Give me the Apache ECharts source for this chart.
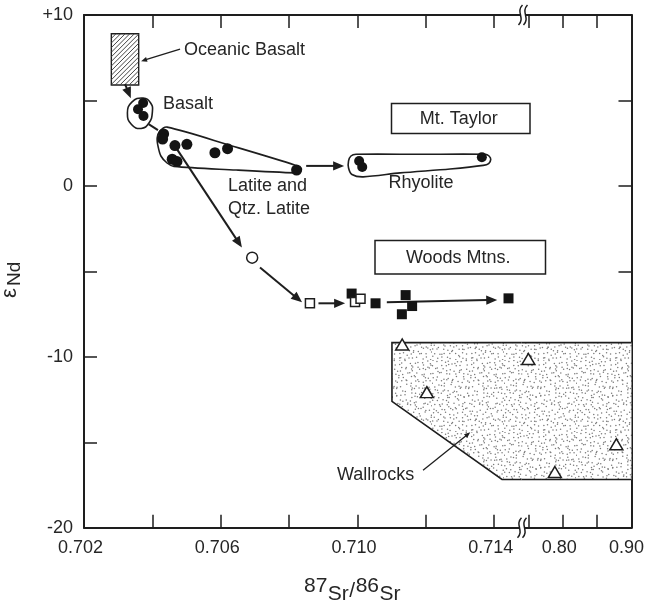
<!DOCTYPE html>
<html>
<head>
<meta charset="utf-8">
<script src="https://cdn.jsdelivr.net/npm/echarts@6/dist/echarts.min.js"></script>
<style>
  html, body { margin: 0; padding: 0; background: #fff; }
  #chart { width: 647px; height: 609px; }
</style>
</head>
<body>
<div id="chart"></div>
<script>
// ---- axis ticks -------------------------------------------------------
const srLowTicks   = [0.704, 0.706, 0.708, 0.710, 0.712, 0.714];
const srLowLabels  = [0.702, 0.706, 0.710, 0.714];
const srHighTicks  = [0.75, 0.80, 0.85];
const srHighLabels = [0.80, 0.90];
const ndTickLabels = [-20, -10, 0, 10];

// ---- samples: [87Sr/86Sr, eNd] ---------------------------------------
const oceanicBasaltRange = [[0.7028, 5.9], [0.7036, 8.9]];
const basalt = [[0.70373, 4.85], [0.70358, 4.48], [0.70374, 4.09]];
const latite = [
  [0.70433, 3.04], [0.70430, 2.74], [0.70466, 2.36], [0.70501, 2.43],
  [0.70583, 1.94], [0.70620, 2.18], [0.70458, 1.56], [0.70472, 1.43],
  [0.70822, 0.93]
];
const rhyolite = [[0.71005, 1.46], [0.71014, 1.11], [0.71364, 1.68]];
const woodsOpenCircle = [[0.70692, -4.20]];
const woodsOpenSquares = [[0.70861, -6.87], [0.70993, -6.80], [0.71009, -6.61]];
const woodsFilledSquares = [
  [0.70983, -6.30], [0.71053, -6.87], [0.71141, -6.39],
  [0.71160, -7.03], [0.71130, -7.51], [0.71442, -6.58]
];
const wallrocksLow  = [[0.71131, -9.28], [0.71203, -12.07]];
const wallrocksHigh = [[0.750, -10.13], [0.878, -15.12], [0.7885, -16.74]];

// ---- fields and envelopes --------------------------------------------
const basaltEnvelope = [
  [0.70373, 5.14], [0.70395, 4.85], [0.70400, 4.32], [0.70390, 3.68],
  [0.70367, 3.36], [0.70339, 3.59], [0.70327, 4.26], [0.70340, 4.90]
];
const latiteEnvelope = [
  [0.70443, 3.44], [0.70633, 2.34], [0.70820, 1.20], [0.70836, 1.01],
  [0.70831, 0.79], [0.70819, 0.76], [0.70645, 0.93], [0.70463, 1.14],
  [0.70443, 1.34], [0.70425, 1.75], [0.70417, 2.28], [0.70414, 2.80],
  [0.70422, 3.21]
];
const rhyoliteEnvelope = [
  [0.70996, 1.85], [0.71183, 1.85], [0.71374, 1.85], [0.71385, 1.75],
  [0.71390, 1.55], [0.71384, 1.31], [0.71368, 1.20], [0.71271, 0.99],
  [0.71125, 0.76], [0.71017, 0.53], [0.70984, 0.67], [0.70974, 1.05],
  [0.70974, 1.46], [0.70981, 1.75]
];
// wallrock field outline, low-ratio part (edge at the axis break is open)
const wallrockFieldLow = [
  [0.7148, -9.17], [0.71101, -9.17], [0.71101, -12.61], [0.71423, -17.18], [0.7148, -17.18]
];
// wallrock field, high-ratio part
const wallrockFieldHigh = [[0.74, -9.17], [0.90, -9.17], [0.90, -17.18], [0.74, -17.18]];

// ---- arrows: [x1, y1, x2, y2] -----------------------------------------
const pathwayArrows = [
  [0.70320, 5.95, 0.70337, 5.13],
  [0.70850, 1.17, 0.70961, 1.17],
  [0.70469, 2.24, 0.70662, -3.60],
  [0.70715, -4.77, 0.70838, -6.81],
  [0.70886, -6.87, 0.70964, -6.87],
  [0.71086, -6.81, 0.71409, -6.67]
];
const connectorLines = [[0.70389, 3.62, 0.70414, 3.30]];
const leaderArrows = [
  [0.70481, 8.00, 0.70367, 7.30],
  [0.71192, -16.64, 0.71330, -14.42]
];

// ---- drawing helpers --------------------------------------------------
const INK = '#1e1e1e';
const TXT = '#262626';
const FONT = 'Liberation Sans, Arial, sans-serif';

function hash01(i) {
  let h = Math.imul(i ^ 0x9e3779b9, 0x85ebca6b);
  h ^= h >>> 13;
  h = Math.imul(h, 0xc2b2ae35);
  h ^= h >>> 16;
  return (h >>> 0) / 4294967296;
}

// stipple texture: one dot per small cell, jittered inside the cell
function stippleTexture() {
  const size = 72, cell = 4;
  const c = document.createElement('canvas');
  c.width = c.height = size;
  const g = c.getContext('2d');
  g.fillStyle = '#ffffff';
  g.fillRect(0, 0, size, size);
  g.fillStyle = '#7a7a7a';
  let k = 1;
  for (let gy = 0; gy < size / cell; gy++) {
    for (let gx = 0; gx < size / cell; gx++) {
      const x = gx * cell + hash01(k++) * cell;
      const y = gy * cell + hash01(k++ + 5000) * cell;
      g.beginPath();
      g.arc(x, y, 0.75, 0, Math.PI * 2);
      g.fill();
    }
  }
  return c;
}
const stipple = stippleTexture();

function arrowShape(a, b, head, width) {
  const dx = b[0] - a[0], dy = b[1] - a[1];
  const len = Math.hypot(dx, dy) || 1;
  const ux = dx / len, uy = dy / len;
  const children = [];
  const base = head > 0 ? [b[0] - ux * head, b[1] - uy * head] : b;
  children.push({
    type: 'line',
    shape: { x1: a[0], y1: a[1], x2: base[0] + ux, y2: base[1] + uy },
    style: { stroke: INK, lineWidth: width }
  });
  if (head > 0) {
    const hw = head * 0.42;
    children.push({
      type: 'polygon',
      shape: { points: [b, [base[0] - uy * hw, base[1] + ux * hw], [base[0] + uy * hw, base[1] - ux * hw]] },
      style: { fill: INK }
    });
  }
  return { type: 'group', children };
}

function arrowSeries(data, head, width) {
  return {
    type: 'custom', xAxisIndex: 0, yAxisIndex: 0, z: 6, silent: true,
    encode: { x: [0, 2], y: [1, 3] },
    data: data,
    renderItem: (params, api) => arrowShape(
      api.coord([api.value(0), api.value(1)]),
      api.coord([api.value(2), api.value(3)]), head, width)
  };
}

function envelopeSeries(points, smooth) {
  return {
    type: 'custom', xAxisIndex: 0, yAxisIndex: 0, z: 4, silent: true,
    data: [points[0]],
    renderItem: (params, api) => ({
      type: 'polygon',
      shape: { points: points.map(p => api.coord(p)), smooth: smooth },
      style: { fill: 'none', stroke: INK, lineWidth: 1.6 }
    })
  };
}

function scatter(data, axis, symbol, size, filled, z) {
  return {
    type: 'scatter', xAxisIndex: axis[0], yAxisIndex: axis[1], z: z || 8, silent: true,
    symbol: symbol, symbolSize: size, data: data,
    itemStyle: filled
      ? { color: '#141414', opacity: 1 }
      : { color: '#fff', borderColor: INK, borderWidth: 1.5, opacity: 1 }
  };
}

const series = [
  // wallrock field, low part
  {
    type: 'custom', xAxisIndex: 0, yAxisIndex: 0, z: 1, silent: true,
    data: [wallrockFieldLow[1]],
    renderItem: (params, api) => {
      const pts = wallrockFieldLow.map(p => api.coord(p));
      return {
        type: 'group', children: [
          { type: 'polygon', shape: { points: pts }, style: { fill: { image: stipple, repeat: 'repeat' } } },
          { type: 'polyline', shape: { points: pts }, style: { fill: 'none', stroke: INK, lineWidth: 1.6 } }
        ]
      };
    }
  },
  // wallrock field, high part
  {
    type: 'custom', xAxisIndex: 2, yAxisIndex: 1, z: 1, silent: true,
    data: [wallrockFieldHigh[1]],
    renderItem: (params, api) => {
      const pts = wallrockFieldHigh.map(p => api.coord(p));
      return {
        type: 'group', children: [
          { type: 'polygon', shape: { points: pts }, style: { fill: { image: stipple, repeat: 'repeat' } } },
          { type: 'line', shape: { x1: pts[0][0], y1: pts[0][1], x2: pts[1][0], y2: pts[1][1] }, style: { stroke: INK, lineWidth: 1.6 } },
          { type: 'line', shape: { x1: pts[3][0], y1: pts[3][1], x2: pts[2][0], y2: pts[2][1] }, style: { stroke: INK, lineWidth: 1.6 } }
        ]
      };
    }
  },
  // oceanic basalt range, hatched
  {
    type: 'custom', xAxisIndex: 0, yAxisIndex: 0, z: 3, silent: true,
    data: [oceanicBasaltRange[0]],
    renderItem: (params, api) => {
      const p0 = api.coord([oceanicBasaltRange[0][0], oceanicBasaltRange[1][1]]);
      const p1 = api.coord([oceanicBasaltRange[1][0], oceanicBasaltRange[0][1]]);
      const x0 = p0[0], y0 = p0[1], x1 = p1[0], y1 = p1[1];
      const children = [{
        type: 'rect', shape: { x: x0, y: y0, width: x1 - x0, height: y1 - y0 },
        style: { fill: '#fff', stroke: INK, lineWidth: 1.4 }
      }];
      const step = 4.6;
      for (let c = x0 + y0 + step; c < x1 + y1; c += step) {
        const xa = Math.max(x0, c - y1), xb = Math.min(x1, c - y0);
        if (xb <= xa) continue;
        children.push({
          type: 'line', shape: { x1: xa, y1: c - xa, x2: xb, y2: c - xb },
          style: { stroke: '#444', lineWidth: 1 }
        });
      }
      return { type: 'group', children };
    }
  },
  envelopeSeries(basaltEnvelope, 0.5),
  envelopeSeries(latiteEnvelope, 0.3),
  envelopeSeries(rhyoliteEnvelope, 0.3),
  arrowSeries(pathwayArrows, 11, 2),
  arrowSeries(connectorLines, 0, 2),
  arrowSeries(leaderArrows, 6, 1.3),
  scatter(basalt, [0, 0], 'circle', 10, true),
  scatter(latite, [0, 0], 'circle', 11, true),
  scatter(rhyolite, [0, 0], 'circle', 10, true),
  scatter(woodsOpenCircle, [0, 0], 'circle', 11, false),
  scatter(woodsFilledSquares, [0, 0], 'rect', 10, true),
  scatter(woodsOpenSquares, [0, 0], 'rect', 9, false, 9),
  scatter(wallrocksLow, [0, 0], 'triangle', [13, 11], false),
  scatter(wallrocksHigh, [2, 1], 'triangle', [13, 11], false)
];

// ---- axes ---------------------------------------------------------------
const axisLine = { show: true, onZero: false, lineStyle: { color: INK, width: 2 } };
const tickIn = { show: true, inside: true, length: 13, lineStyle: { color: INK, width: 1.5 } };
const labelStyle = { color: TXT, fontSize: 18, fontFamily: FONT };

function xAxisPair(gridIndex, min, max, ticks, labels, digits) {
  const bottom = {
    type: 'value', gridIndex, position: 'bottom', min, max,
    axisLine, splitLine: { show: false },
    axisTick: Object.assign({ customValues: ticks }, tickIn),
    axisLabel: Object.assign({
      customValues: labels, margin: 11,
      formatter: v => (Math.abs(v - 0.90) < 1e-9 ? '{e|' : '{n|') + v.toFixed(digits) + '}',
      rich: {
        n: Object.assign({ padding: [0, 7, 0, 0] }, labelStyle),
        e: Object.assign({ padding: [0, 10, 0, 0] }, labelStyle)
      }
    }, labelStyle)
  };
  const top = {
    type: 'value', gridIndex, position: 'top', min, max,
    axisLine, splitLine: { show: false },
    axisTick: Object.assign({ customValues: ticks }, tickIn),
    axisLabel: { show: false }
  };
  return [bottom, top];
}

const option = {
  animation: false,
  backgroundColor: '#fff',
  grid: [
    { left: 84, top: 15, width: 437.5, height: 512.7 },
    { left: 521.5, top: 15, width: 110.5, height: 512.7 }
  ],
  xAxis: [
    ...xAxisPair(0, 0.702, 0.7148, srLowTicks, srLowLabels, 3),
    ...xAxisPair(1, 0.74, 0.90, srHighTicks, srHighLabels, 2)
  ],
  yAxis: [
    {
      type: 'value', gridIndex: 0, position: 'left', min: -20, max: 10, interval: 5,
      axisLine, splitLine: { show: false }, axisTick: tickIn,
      axisLabel: Object.assign({
        customValues: ndTickLabels, margin: 11,
        formatter: v => (v > 0 ? '+' + v : String(v))
      }, labelStyle)
    },
    {
      type: 'value', gridIndex: 1, position: 'right', min: -20, max: 10, interval: 5,
      axisLine, splitLine: { show: false }, axisTick: tickIn,
      axisLabel: { show: false }
    }
  ],
  series
};

const chart = echarts.init(document.getElementById('chart'), null, { renderer: 'canvas' });
chart.setOption(option);

// ---- annotations, axis titles, axis break marks ----------------------------
function measure(text, size) {
  const g = document.createElement('canvas').getContext('2d');
  g.font = size + 'px ' + FONT;
  return g.measureText(text).width;
}

function text(str, x, y, opts) {
  return {
    type: 'text', z: 50, silent: true,
    style: Object.assign({
      text: str, x, y, fill: TXT, font: '18px ' + FONT,
      align: 'left', verticalAlign: 'middle'
    }, (opts && opts.style) || {})
  };
}

function labelBox(str, x, y, w, h) {
  return [
    { type: 'rect', z: 40, silent: true, shape: { x, y, width: w, height: h },
      style: { fill: '#fff', stroke: INK, lineWidth: 1.5 } },
    text(str, x + w / 2 - 2, y + h / 2 + 1, { style: { align: 'center' } })
  ];
}

// x-axis title: 87Sr/86Sr with raised mass numbers
const titleSize = 21;
const titleParts = [['87', -8], ['Sr', 0], ['/', -3], ['86', -8], ['Sr', 0]];
const titleGraphics = [];
let tx = 304;
titleParts.forEach(([s, dy]) => {
  titleGraphics.push({
    type: 'text', z: 50, silent: true,
    style: { text: s, x: tx, y: 605 + dy, fill: TXT, font: titleSize + 'px ' + FONT,
      align: 'left', verticalAlign: 'bottom' }
  });
  tx += measure(s, titleSize) + 0.5;
});

// break marks on the top and bottom axes
function breakMark(cx, cy) {
  const wave = (x) => ({
    type: 'bezierCurve', z: 60, silent: true,
    shape: { x1: x + 2, y1: cy - 10, cpx1: x - 5, cpy1: cy - 3, cpx2: x + 5, cpy2: cy + 3, x2: x - 2, y2: cy + 10 },
    style: { stroke: INK, lineWidth: 1.5, fill: 'none' }
  });
  return [
    { type: 'rect', z: 55, silent: true, shape: { x: cx - 2, y: cy - 3, width: 4, height: 6 }, style: { fill: '#fff' } },
    wave(cx - 2.5), wave(cx + 2.5)
  ];
}

chart.setOption({
  graphic: [
    text('Oceanic Basalt', 184, 50),
    text('Basalt', 163, 104),
    text('Latite and', 228, 186),
    text('Qtz. Latite', 228, 209),
    text('Rhyolite', 421, 183, { style: { align: 'center' } }),
    text('Wallrocks', 337, 475),
    ...labelBox('Mt. Taylor', 391.5, 103.5, 138.5, 30),
    ...labelBox('Woods Mtns.', 375, 240.5, 170.5, 33.5),
    ...titleGraphics,
    {
      type: 'group', x: 21, y: 298, rotation: Math.PI / 2, z: 50, silent: true,
      children: [
        { type: 'text', style: { text: 'ε', x: 0, y: 0, fill: TXT, font: '22px ' + FONT, align: 'left', verticalAlign: 'bottom' } },
        { type: 'text', style: { text: 'Nd', x: 12, y: 3, fill: TXT, font: '19px ' + FONT, align: 'left', verticalAlign: 'bottom' } }
      ]
    },
    ...breakMark(522, 527.7),
    ...breakMark(523, 15)
  ]
});
</script>
</body>
</html>
